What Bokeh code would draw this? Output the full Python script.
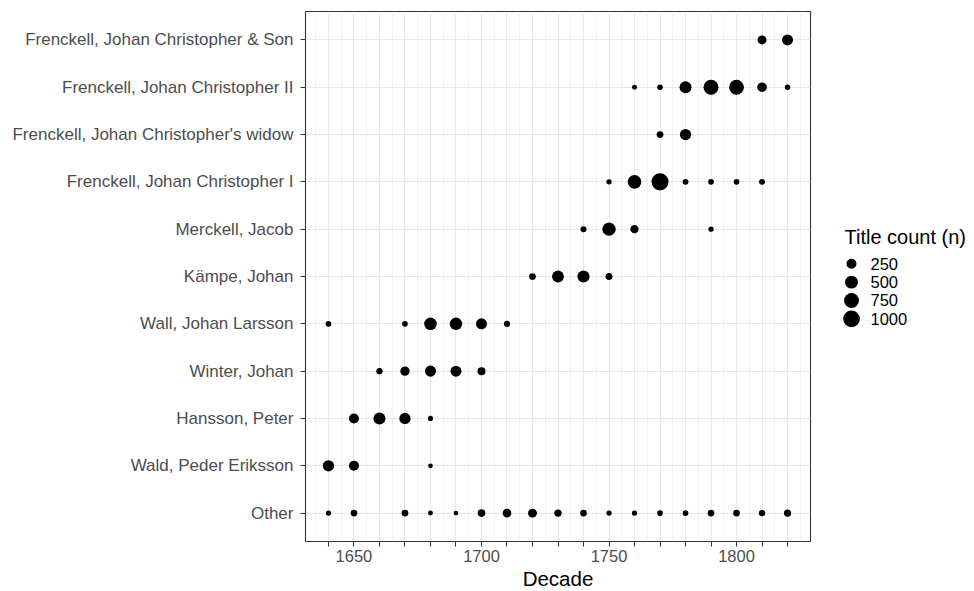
import numpy as np
from bokeh.plotting import figure
from bokeh.models import ColumnDataSource, FactorRange, Range1d, FixedTicker, CustomJSTickFormatter
from bokeh.layouts import row
from bokeh.embed import file_html
from bokeh.resources import INLINE
from bokeh.core.properties import value

# ---------------- data ----------------
publishers = [
    "Other",
    "Wald, Peder Eriksson",
    "Hansson, Peter",
    "Winter, Johan",
    "Wall, Johan Larsson",
    "Kämpe, Johan",
    "Merckell, Jacob",
    "Frenckell, Johan Christopher I",
    "Frenckell, Johan Christopher's widow",
    "Frenckell, Johan Christopher II",
    "Frenckell, Johan Christopher & Son",
]

other_decades = [1640, 1650, 1670, 1680, 1690, 1700, 1710, 1720, 1730, 1740,
                 1750, 1760, 1770, 1780, 1790, 1800, 1810, 1820]
other_n = [22, 64, 70, 16, 11, 105, 160, 180, 90, 64, 22, 22, 32, 32, 64, 64, 55, 85]

wald_decades = [1640, 1650, 1680]
wald_n = [356, 250, 11]

hansson_decades = [1650, 1660, 1670, 1680]
hansson_n = [250, 420, 356, 20]

winter_decades = [1660, 1670, 1680, 1690, 1700]
winter_n = [50, 200, 340, 330, 123]

wall_decades = [1640, 1670, 1680, 1690, 1700, 1710]
wall_n = [32, 32, 480, 460, 330, 50]

kampe_decades = [1720, 1730, 1740, 1750]
kampe_n = [64, 400, 430, 76]

merckell_decades = [1740, 1750, 1760, 1790]
merckell_n = [41, 556, 140, 22]

jc1_decades = [1750, 1760, 1770, 1780, 1790, 1800, 1810]
jc1_n = [22, 600, 1050, 40, 32, 32, 40]

widow_decades = [1770, 1780]
widow_n = [70, 350]

jc2_decades = [1760, 1770, 1780, 1790, 1800, 1810, 1820]
jc2_n = [16, 30, 420, 760, 740, 220, 25]

son_decades = [1810, 1820]
son_n = [180, 330]

decade_ticks = list(range(1640, 1821, 10))
minor_grid_ticks = list(range(1635, 1830, 10))
legend_breaks = [250, 500, 750, 1000]

rows = [
    ("Other", other_decades, other_n),
    ("Wald, Peder Eriksson", wald_decades, wald_n),
    ("Hansson, Peter", hansson_decades, hansson_n),
    ("Winter, Johan", winter_decades, winter_n),
    ("Wall, Johan Larsson", wall_decades, wall_n),
    ("Kämpe, Johan", kampe_decades, kampe_n),
    ("Merckell, Jacob", merckell_decades, merckell_n),
    ("Frenckell, Johan Christopher I", jc1_decades, jc1_n),
    ("Frenckell, Johan Christopher's widow", widow_decades, widow_n),
    ("Frenckell, Johan Christopher II", jc2_decades, jc2_n),
    ("Frenckell, Johan Christopher & Son", son_decades, son_n),
]


def dot_size(n):
    return 3.3 + 0.424 * np.sqrt(np.asarray(n, dtype=float))


xs, ys, ns = [], [], []
for name, decs, counts in rows:
    xs += decs
    ys += [name] * len(decs)
    ns += counts

src = ColumnDataSource(dict(decade=xs, publisher=ys, n=ns, size=list(dot_size(ns))))

FONT = "Liberation Sans"
GRID = "#E8E8E8"
DARK = "#333333"

# ---------------- main plot ----------------
p = figure(
    frame_width=505, frame_height=530,
    x_range=Range1d(1631, 1829),
    y_range=FactorRange(factors=publishers, range_padding=0.1, range_padding_units="absolute"),
    output_backend="svg", toolbar_location=None,
    min_border_left=305, min_border_right=10, min_border_top=11, min_border_bottom=10,
    background_fill_color="white", border_fill_color="white",
)
p.outline_line_color = DARK
p.outline_line_width = 1.1
p.outline_line_alpha = 1.0

p.xaxis.ticker = FixedTicker(ticks=decade_ticks, minor_ticks=minor_grid_ticks)
p.xaxis.formatter = CustomJSTickFormatter(code="return (tick % 50 === 0) ? tick.toFixed(0) : '';")

for ax in (p.xaxis[0], p.yaxis[0]):
    ax.axis_line_color = None
    ax.major_tick_line_color = DARK
    ax.major_tick_line_width = 1.1
    ax.major_tick_out = 5
    ax.major_tick_in = 0
    ax.minor_tick_out = 0
    ax.minor_tick_in = 0
    ax.major_label_text_font = FONT
    ax.major_label_text_color = "#4D4D4D"

p.yaxis.major_label_text_font_size = "17px"
p.xaxis.major_label_text_font_size = "16.5px"
p.yaxis.major_label_standoff = 7
p.xaxis.major_label_standoff = 3
p.xaxis.axis_label = "Decade"
p.xaxis.axis_label_text_font = FONT
p.xaxis.axis_label_text_font_size = "20.5px"
p.xaxis.axis_label_text_font_style = "normal"
p.xaxis.axis_label_text_color = "black"
p.xaxis.axis_label_standoff = 2

p.xgrid.grid_line_color = GRID
p.xgrid.grid_line_width = 1.1
p.xgrid.minor_grid_line_color = GRID
p.xgrid.minor_grid_line_width = 0.6
p.ygrid.grid_line_color = GRID
p.ygrid.grid_line_width = 1.1

p.scatter("decade", "publisher", size="size", source=src, marker="circle",
          fill_color="black", line_color=None)

# ---------------- legend (separate panel, frame aligned with main frame) ----------------
LW, LFH = 154, 530
lg = figure(frame_width=LW, frame_height=LFH, x_range=Range1d(0, LW), y_range=Range1d(LFH, 0),
            x_axis_location=None, y_axis_location=None,
            output_backend="svg", toolbar_location=None,
            min_border_left=0, min_border_right=0, min_border_top=11, min_border_bottom=0,
            background_fill_color="white", border_fill_color="white")
lg.outline_line_color = None
lg.xgrid.visible = False
lg.ygrid.visible = False

leg_y = [252.3 + 18.33 * i for i in range(len(legend_breaks))]
leg_src = ColumnDataSource(dict(
    x=[31] * len(legend_breaks), y=leg_y,
    size=list(dot_size(legend_breaks)),
    lx=[50] * len(legend_breaks),
    label=[str(b) for b in legend_breaks],
))
lg.scatter("x", "y", size="size", source=leg_src, marker="circle",
           fill_color="black", line_color=None)
lg.text("lx", "y", text="label", source=leg_src, text_font=value(FONT),
        text_font_size="16.5px", text_baseline="middle", text_color="black")
lg.text(x=[24], y=[225.5], text=["Title count (n)"], text_font=value(FONT),
        text_font_size="20px", text_baseline="middle", text_color="black")

layout = row(p, lg)
open("out.html", "w").write(file_html(layout, INLINE))
